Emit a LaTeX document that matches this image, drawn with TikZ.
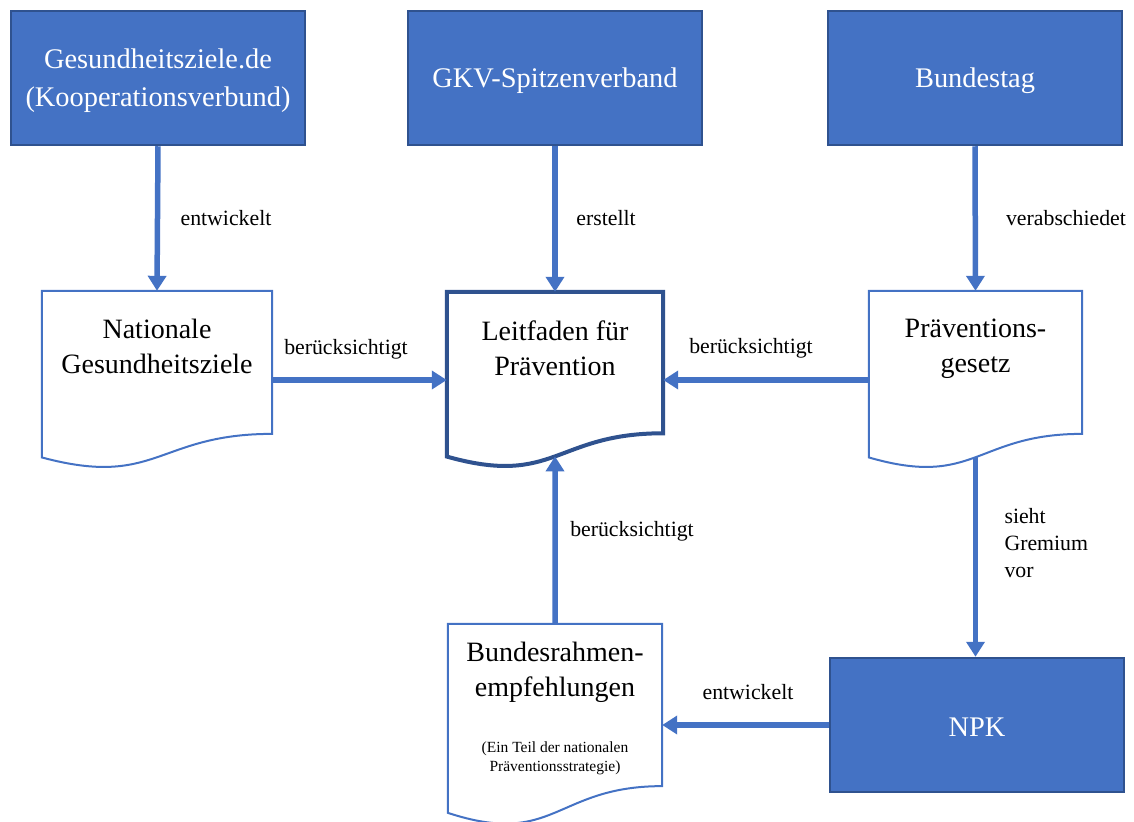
\documentclass[tikz,border=0pt]{standalone}
\usepackage{fontspec}
\setmainfont{Liberation Serif}
\usetikzlibrary{arrows.meta,calc}
\definecolor{boxblue}{HTML}{4472C4}
\definecolor{darkblue}{HTML}{2F528F}
\tikzset{
  topbox/.style={draw=darkblue, line width=2.5bp, fill=boxblue, minimum width=294bp, minimum height=134bp, inner sep=0pt},
  toptext/.style={text=white, align=center, font=\fontsize{28.4bp}{38bp}\selectfont},
  docframe/.style={draw=none, inner sep=0pt},
  doctext/.style={align=center, font=\fontsize{28bp}{35bp}\selectfont, anchor=north},
  smalltext/.style={align=center, font=\fontsize{15.5bp}{19bp}\selectfont},
  lbl/.style={font=\fontsize{21.8bp}{27bp}\selectfont},
  arr/.style={draw=boxblue, line width=5.5bp, -{Triangle[width=18bp,length=15bp]}},
  thinline/.style={draw=boxblue, line width=2bp, fill=white},
  thickline/.style={draw=darkblue, line width=4bp, fill=white},
}
\newcommand\docpath[2]{%
  \draw[#2] (#1.north west) -- (#1.north east) -- ($(#1.north east)!0.802!(#1.south east)$)
    .. controls ($(#1.north)!0.802!(#1.south)$) and ($(#1.north)!1.1075!(#1.south)$) ..
    ($(#1.north west)!0.934!(#1.south west)$) -- cycle;}
\begin{document}
\begin{tikzpicture}[x=1bp,y=-1bp]
\useasboundingbox (0,0) rectangle (1134,822);
% top boxes
\node[topbox] (gz) at (158,78) {};
\node[topbox] (gkv) at (555,78) {};
\node[topbox] (bt) at (975,78) {};
\node[topbox] (npk) at (977,725) {};
\node[toptext] (gzT) at ($(gz)+(0,3)$) {Gesundheitsziele.de\\(Kooperationsverbund)};
\node[toptext] (gkvT) at ($(gkv)+(0,3)$) {GKV-Spitzenverband};
\node[toptext] (btT) at ($(bt)+(0,3)$) {Bundestag};
\node[toptext] (npkT) at ($(npk)+(0,2)$) {NPK};
% documents
\node[docframe, minimum width=230bp, minimum height=178bp] (nat) at (157,380) {};
\node[docframe, minimum width=216bp, minimum height=176bp] (leit) at (555,380) {};
\node[docframe, minimum width=213bp, minimum height=178bp] (prae) at (975.5,380) {};
\node[docframe, minimum width=214bp, minimum height=202bp] (br) at (555,725) {};
\docpath{nat}{thinline}
\docpath{leit}{thickline}
\docpath{prae}{thinline}
\docpath{br}{thinline}
\node[doctext] (natT) at ($(nat.north)+(0,25)$) {Nationale\\Gesundheitsziele};
\node[doctext] (leitT) at ($(leit.north)+(0,25)$) {Leitfaden für\\Prävention};
\node[doctext] (praeT) at ($(prae.north)+(0,25)$) {Präventions-\\gesetz};
\node[doctext] (brT) at ($(br.north)+(0,15)$) {Bundesrahmen-\\empfehlungen};
\node[smalltext] (brS) at (555,758) {(Ein Teil der nationalen\\Präventionsstrategie)};
% coordinates on wavy bottoms
\coordinate (leitB) at ($(leit.north)!0.933!(leit.south)$);
\coordinate (praeB) at ($(prae.north)!0.933!(prae.south)$);
% connectors
\draw[arr] (gz.south) -- (nat.north);
\draw[arr] (gkv.south) -- (leit.north);
\draw[arr] (bt.south) -- (prae.north);
\draw[arr] (nat.east) -- (leit.west);
\draw[arr] (prae.west) -- (leit.east);
\draw[arr] (br.north) -- (leitB);
\draw[arr] (praeB) -- (praeB |- npk.north);
\draw[arr] (npk.west) -- (npk.west -| br.east);
% labels
\node[lbl] (l1) at (226,218) {entwickelt};
\node[lbl] (l2) at (606,218) {erstellt};
\node[lbl] (l3) at (1066,218) {verabschiedet};
\node[lbl] (l4) at (346,349) {berücksichtigt};
\node[lbl] (l5) at (751,348) {berücksichtigt};
\node[lbl] (l6) at (632,531) {berücksichtigt};
\node[lbl, align=left, anchor=west] (l7) at (1001,543) {sieht\\Gremium\\vor};
\node[lbl] (l8) at (748,692) {entwickelt};
\end{tikzpicture}
\end{document}
